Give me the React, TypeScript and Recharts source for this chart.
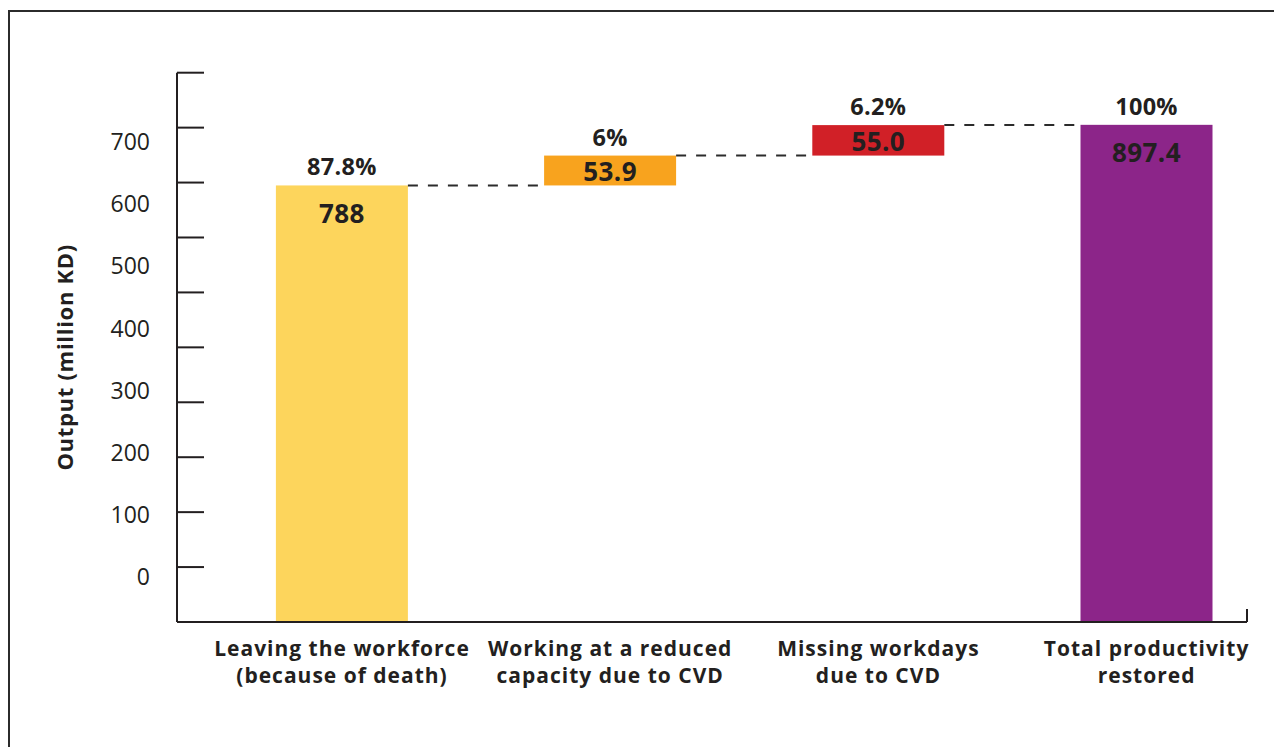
import React from 'react';
import { BarChart, Bar, XAxis, YAxis, Label } from 'recharts';

// ---- data ----
const categories = [
  'Leaving the workforce\n(because of death)',
  'Working at a reduced\ncapacity due to CVD',
  'Missing workdays\ndue to CVD',
  'Total productivity\nrestored',
];
const values = [788, 53.9, 55.0, 897.4];
const valueLabels = ['788', '53.9', '55.0', '897.4'];
const shareLabels = ['87.8%', '6%', '6.2%', '100%'];
const isTotal = [false, false, false, true];
const barColors = ['#FDD55C', '#F8A31E', '#D12027', '#8C2589'];
const gridTicks = [0, 100, 200, 300, 400, 500, 600, 700, 800, 900, 1000];
const tickLabels = [0, 100, 200, 300, 400, 500, 600, 700];

// ---- layout / style ----
const FONT = '"Open Sans", sans-serif';
const INK = '#231F20';
const CHART_W = 1274;
const CHART_H = 739;
const MARGIN = { top: 64.7, right: 0, bottom: 45, left: 0 };
const TICK_AXIS_W = 27;
const LABEL_AXIS_W = 142;
const RIGHT_AXIS_W = 35;
const X_AXIS_H = 80;
const PAD_L = 30.9;
const PAD_R = -33.7;
const BAR_SIZE = 132;
const PLOT_W = CHART_W - MARGIN.left - MARGIN.right - TICK_AXIS_W - LABEL_AXIS_W - RIGHT_AXIS_W;
const STEP = (PLOT_W - PAD_L - PAD_R) / categories.length;

let running = 0;
const data = categories.map((name, i) => {
  const base = isTotal[i] ? 0 : running;
  if (!isTotal[i]) running += values[i];
  return { name, base, value: values[i] };
});

const BarShape = (props: any) => {
  const { x, y, width, height, index } = props;
  const cx = x + width / 2;
  const innerCenter = y + Math.min(height / 2 + 1.5, 28);
  return (
    <g>
      <rect x={x} y={y} width={width} height={height} fill={barColors[index]} />
      {index < categories.length - 1 && (
        <line
          x1={x + width}
          x2={x + STEP}
          y1={y}
          y2={y}
          stroke="#2b2b2b"
          strokeWidth={2}
          strokeDasharray="10 10"
        />
      )}
      <text
        x={cx}
        y={y - 10}
        textAnchor="middle"
        fontFamily={FONT}
        fontWeight={700}
        fontSize={23.5}
        letterSpacing={0.3}
        fill={INK}
      >
        {shareLabels[index]}
      </text>
      <text
        x={cx}
        y={innerCenter + 0.36 * 26}
        textAnchor="middle"
        fontFamily={FONT}
        fontWeight={700}
        fontSize={26}
        letterSpacing={0.4}
        fill={INK}
      >
        {valueLabels[index]}
      </text>
    </g>
  );
};

const TickMark = (props: any) => (
  <line x1={props.x} x2={props.x + 27} y1={props.y} y2={props.y} stroke={INK} strokeWidth={2} />
);

const EndTick = (props: any) => (
  <line x1={props.x} x2={props.x} y1={props.y} y2={props.y - 13} stroke={INK} strokeWidth={2} />
);

const XTick = (props: any) => {
  const { x, y, payload } = props;
  const lines = String(payload.value).split('\n');
  return (
    <text
      textAnchor="middle"
      fontFamily={FONT}
      fontWeight={700}
      fontSize={21}
      letterSpacing={1}
      fill={INK}
    >
      {lines.map((l, i) => (
        <tspan key={i} x={x} y={y + 34 + i * 27}>
          {l}
        </tspan>
      ))}
    </text>
  );
};

const YTitle = (props: any) => {
  const vb = props.viewBox || { x: 0, y: 0, width: 0, height: 0 };
  const bx = 65;
  const cy = vb.y + vb.height / 2 + 10;
  return (
    <text
      transform={`translate(${bx}, ${cy}) rotate(-90)`}
      textAnchor="middle"
      fontFamily={FONT}
      fontWeight={700}
      fontSize={22}
      letterSpacing={0.7}
      fill={INK}
    >
      Output (million KD)
    </text>
  );
};

export default function App() {
  return (
    <div style={{ position: 'relative', width: CHART_W, height: CHART_H }}>
      <style>{`html,body{overflow:hidden}`}</style>
      <div
        style={{
          position: 'absolute',
          left: 0,
          top: 2,
          width: 1320,
          height: 820,
          border: '2px solid #2b2b2b',
          boxSizing: 'border-box',
        }}
      />
      <div style={{ position: 'absolute', left: 0, top: 0 }}>
        <BarChart width={CHART_W} height={CHART_H} data={data} margin={MARGIN} barSize={BAR_SIZE}>
          <XAxis
            dataKey="name"
            type="category"
            height={X_AXIS_H}
            padding={{ left: PAD_L, right: PAD_R }}
            axisLine={{ stroke: INK, strokeWidth: 2 }}
            tickLine={false}
            tickSize={0}
            tickMargin={0}
            interval={0}
            tick={<XTick />}
          />
          <YAxis yAxisId="v" hide type="number" domain={[0, 991.5]} allowDataOverflow />
          <YAxis
            yAxisId="a_ticks"
            type="number"
            domain={[0, 1000]}
            allowDataOverflow
            ticks={gridTicks}
            interval={0}
            width={TICK_AXIS_W}
            axisLine={{ stroke: INK, strokeWidth: 2 }}
            tickLine={false}
            tickSize={0}
            tickMargin={0}
            tick={<TickMark />}
          />
          <YAxis
            yAxisId="b_labels"
            type="number"
            domain={[-71.8, 810.9]}
            allowDataOverflow
            ticks={tickLabels}
            interval={0}
            width={LABEL_AXIS_W}
            axisLine={false}
            tickLine={false}
            tickSize={0}
            tickMargin={0}
            tick={{ fill: INK, fontSize: 23, fontFamily: FONT }}
          >
            <Label content={<YTitle />} />
          </YAxis>
          <YAxis
            yAxisId="r"
            orientation="right"
            type="number"
            domain={[0, 1000]}
            allowDataOverflow
            ticks={[0]}
            interval={0}
            width={RIGHT_AXIS_W}
            axisLine={false}
            tickLine={false}
            tickSize={0}
            tickMargin={0}
            tick={<EndTick />}
          />
          <Bar yAxisId="v" dataKey="base" stackId="w" fill="transparent" isAnimationActive={false} />
          <Bar yAxisId="v" dataKey="value" stackId="w" shape={<BarShape />} isAnimationActive={false} />
        </BarChart>
      </div>
    </div>
  );
}
